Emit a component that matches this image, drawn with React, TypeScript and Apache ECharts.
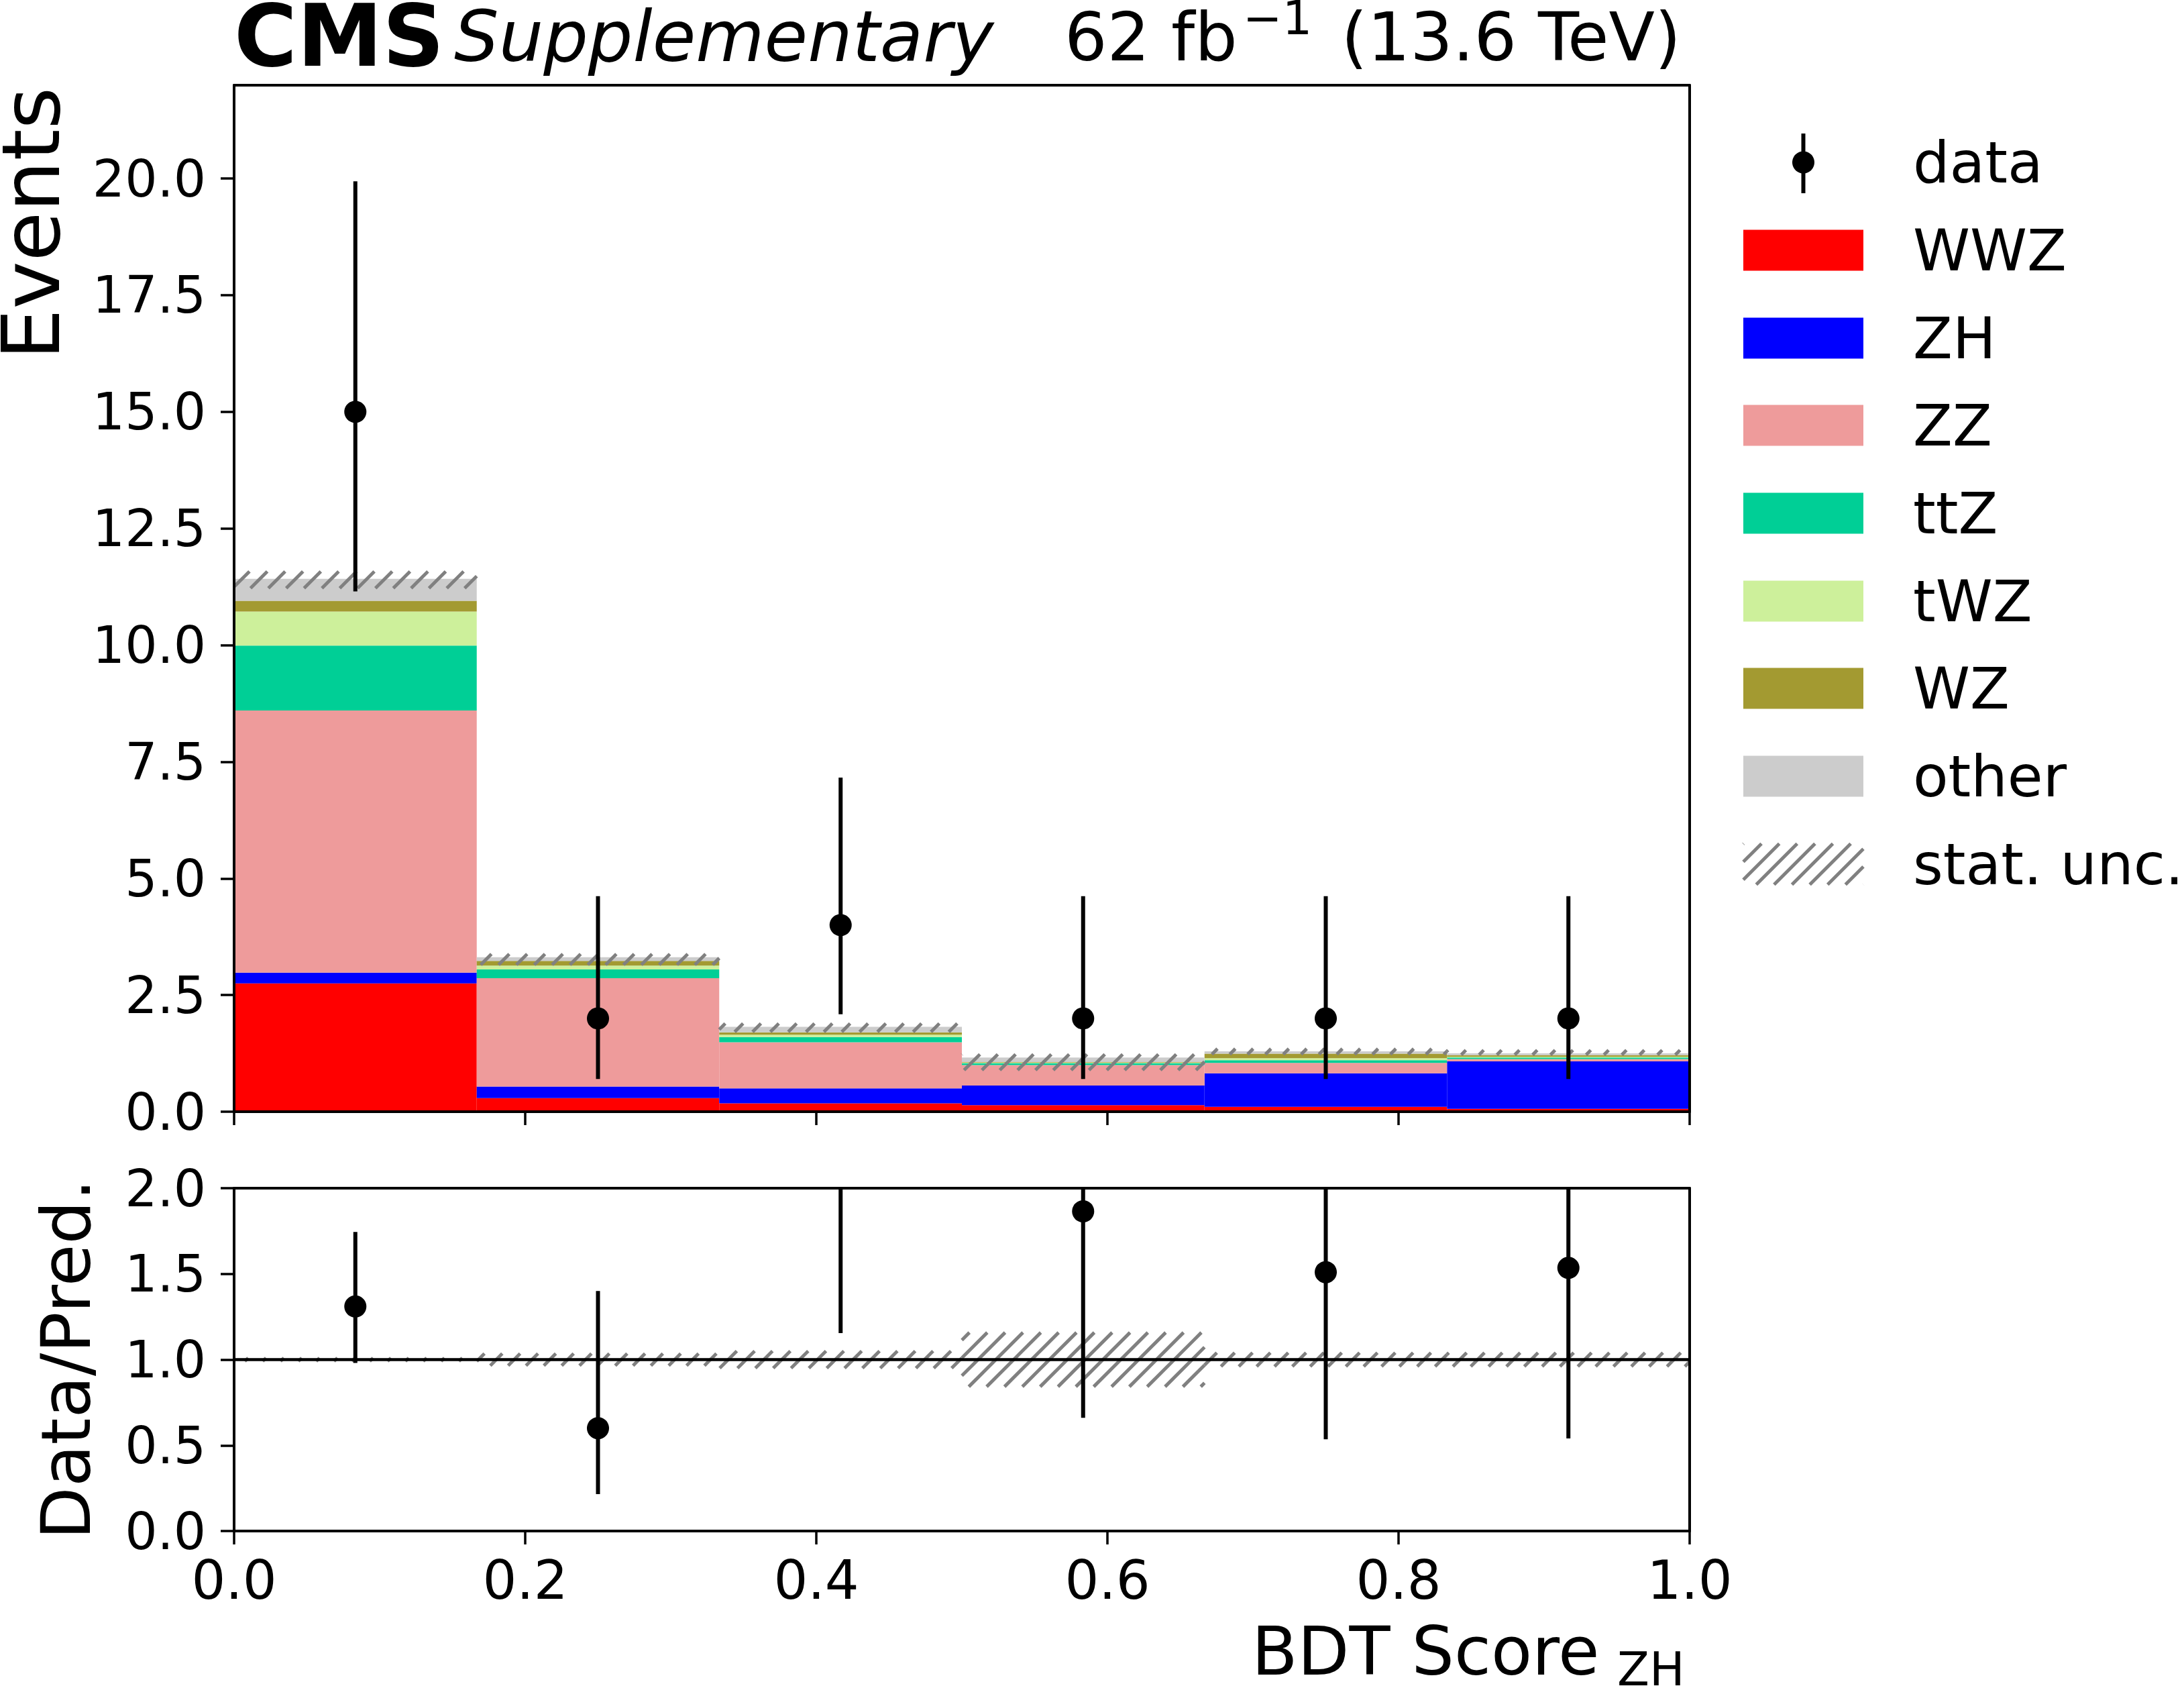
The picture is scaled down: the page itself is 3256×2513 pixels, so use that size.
import React, { useEffect, useRef } from "react";
import * as echarts from "echarts";

// ---------------- data ----------------
const binEdges = [0, 0.1667, 0.3333, 0.5, 0.6667, 0.8333, 1.0];
const binCenters = [0.0833, 0.25, 0.4167, 0.5833, 0.75, 0.9167];

const processNames = ["WWZ", "ZH", "ZZ", "ttZ", "tWZ", "WZ", "other"];
const processColors = ["#ff0000", "#0000ff", "#ee9b9b", "#00cf96", "#cdf09b", "#a39a31", "#cccccc"];
const wwzValues = [2.75, 0.29, 0.18, 0.14, 0.105, 0.06];
const zhValues = [0.23, 0.25, 0.32, 0.42, 0.72, 1.02];
const zzValues = [5.62, 2.32, 0.99, 0.44, 0.22, 0.05];
const ttzValues = [1.39, 0.19, 0.11, 0.04, 0.06, 0.03];
const twzValues = [0.73, 0.08, 0.05, 0.015, 0.04, 0.02];
const wzValues = [0.23, 0.1, 0.05, 0.01, 0.1, 0.03];
const otherValues = [0.47, 0.08, 0.12, 0.095, 0.05, 0.04];

const statUncLow = [11.22, 3.15, 1.71, 0.89, 1.23, 1.22];
const statUncHigh = [11.58, 3.38, 1.89, 1.23, 1.35, 1.32];

const dataValues = [15, 2, 4, 2, 2, 2];
const dataErrLow = [11.15, 0.7, 2.09, 0.7, 0.7, 0.7];
const dataErrHigh = [19.94, 4.62, 7.16, 4.62, 4.62, 4.62];

const ratioValues = [1.31, 0.6, 2.21, 1.865, 1.51, 1.535];
const ratioErrLow = [0.98, 0.215, 1.155, 0.66, 0.535, 0.54];
const ratioErrHigh = [1.745, 1.4, 3.95, 4.33, 3.5, 3.6];
const ratioBandLow = [0.99, 0.965, 0.95, 0.842, 0.96, 0.96];
const ratioBandHigh = [1.01, 1.035, 1.05, 1.158, 1.04, 1.04];

const mainYTicks = [0, 2.5, 5, 7.5, 10, 12.5, 15, 17.5, 20];
const ratioYTicks = [0, 0.5, 1, 1.5, 2];
const xTicks = [0, 0.2, 0.4, 0.6, 0.8, 1.0];

const processValues = [wwzValues, zhValues, zzValues, ttzValues, twzValues, wzValues, otherValues];

// ---------------- helpers ----------------
const FONT = "DejaVu Sans";
const HATCH_SPACING = 26.6;
const HATCH_COLOR = "#808080";
const ERR_WIDTH = 6;

function hatchLines(xL: number, yT: number, xR: number, yB: number) {
  const out: any[] = [];
  const S = HATCH_SPACING;
  const cStart = Math.ceil((xL + yT) / S) * S;
  for (let c = cStart; c <= xR + yB; c += S) {
    const xa = Math.max(xL, c - yB);
    const xb = Math.min(xR, c - yT);
    if (xb > xa) {
      out.push({
        type: "line",
        shape: { x1: xa, y1: c - xa, x2: xb, y2: c - xb },
        style: { stroke: HATCH_COLOR, lineWidth: 5, lineCap: "butt" },
      });
    }
  }
  return out;
}

function rectSeries(name: string, color: string, data: number[][], xi: number, yi: number) {
  return {
    type: "custom",
    name,
    xAxisIndex: xi,
    yAxisIndex: yi,
    encode: { x: [0, 1], y: [2, 3] },
    data,
    renderItem: (_p: any, api: any) => {
      const p0 = api.coord([api.value(0), api.value(2)]);
      const p1 = api.coord([api.value(1), api.value(3)]);
      return {
        type: "rect",
        shape: { x: p0[0], y: p1[1], width: p1[0] - p0[0], height: p0[1] - p1[1] },
        style: { fill: color },
      };
    },
  };
}

function hatchSeries(name: string, data: number[][], xi: number, yi: number) {
  return {
    type: "custom",
    name,
    xAxisIndex: xi,
    yAxisIndex: yi,
    encode: { x: [0, 1], y: [2, 3] },
    data,
    renderItem: (_p: any, api: any) => {
      const p0 = api.coord([api.value(0), api.value(2)]);
      const p1 = api.coord([api.value(1), api.value(3)]);
      return { type: "group", children: hatchLines(p0[0], p1[1], p1[0], p0[1]) };
    },
  };
}

function pointSeries(name: string, data: number[][], xi: number, yi: number, yMin: number, yMax: number) {
  return {
    type: "custom",
    name,
    xAxisIndex: xi,
    yAxisIndex: yi,
    encode: { x: 0, y: 1 },
    data,
    renderItem: (_p: any, api: any) => {
      const x = api.value(0);
      const y = api.value(1);
      const lo = Math.max(yMin, api.value(2));
      const hi = Math.min(yMax, api.value(3));
      const pLo = api.coord([x, lo]);
      const pHi = api.coord([x, hi]);
      const children: any[] = [
        {
          type: "line",
          shape: { x1: pLo[0], y1: pLo[1], x2: pHi[0], y2: pHi[1] },
          style: { stroke: "#000", lineWidth: ERR_WIDTH },
        },
      ];
      if (y >= yMin && y <= yMax) {
        const p = api.coord([x, y]);
        children.push({ type: "circle", shape: { cx: p[0], cy: p[1], r: 16.5 }, style: { fill: "#000" } });
      }
      return { type: "group", children };
    },
  };
}

function fmt(ticks: number[]) {
  return (v: number) => (ticks.some((t) => Math.abs(t - v) < 1e-6) ? v.toFixed(1) : "");
}

function buildOption() {
  const nb = binCenters.length;
  // stacked histogram table
  const cum = new Array(nb).fill(0);
  const stackSeries: any[] = [];
  processValues.forEach((vals, i) => {
    const data = vals.map((v, b) => {
      const row = [binEdges[b], binEdges[b + 1], cum[b], cum[b] + v];
      cum[b] += v;
      return row;
    });
    stackSeries.push(rectSeries(processNames[i], processColors[i], data, 0, 0));
  });
  const statData = statUncLow.map((lo, b) => [binEdges[b], binEdges[b + 1], lo, statUncHigh[b]]);
  const ratioBandData = ratioBandLow.map((lo, b) => [binEdges[b], binEdges[b + 1], lo, ratioBandHigh[b]]);
  const dataPts = dataValues.map((v, b) => [binCenters[b], v, dataErrLow[b], dataErrHigh[b]]);
  const ratioPts = ratioValues.map((v, b) => [binCenters[b], v, ratioErrLow[b], ratioErrHigh[b]]);

  const tickStyle = { show: true, inside: false, length: 20, lineStyle: { color: "#000", width: 3.5 } };
  const lineStyle = { show: true, onZero: false, lineStyle: { color: "#000", width: 4 } };
  const xLabelStyle = { color: "#000", fontSize: 80, fontFamily: FONT };
  const yLabelStyle = { color: "#000", fontSize: 76, fontFamily: FONT };

  const frameAxisX = (gridIndex: number, position: string) => ({
    type: "value",
    gridIndex,
    position,
    min: 0,
    max: 1,
    z: 10,
    axisLine: lineStyle,
    axisTick: { show: false },
    axisLabel: { show: false },
    splitLine: { show: false },
  });
  const frameAxisY = (gridIndex: number, position: string, max: number) => ({
    type: "value",
    gridIndex,
    position,
    min: 0,
    max,
    z: 10,
    axisLine: lineStyle,
    axisTick: { show: false },
    axisLabel: { show: false },
    splitLine: { show: false },
  });

  // legend graphics
  const legendX = 2599;
  const legendW = 179;
  const legendH = 61;
  const rowY = [242, 373, 504, 634, 765, 896, 1026, 1157, 1288];
  const textX = 2852;
  const legendItems: any[] = [];
  legendItems.push({
    type: "line",
    shape: { x1: legendX + legendW / 2, y1: rowY[0] - 43, x2: legendX + legendW / 2, y2: rowY[0] + 46 },
    style: { stroke: "#000", lineWidth: ERR_WIDTH },
  });
  legendItems.push({
    type: "circle",
    shape: { cx: legendX + legendW / 2, cy: rowY[0], r: 16.5 },
    style: { fill: "#000" },
  });
  const legendLabels = ["data", ...processNames, "stat. unc."];
  processNames.forEach((_n, i) => {
    legendItems.push({
      type: "rect",
      shape: { x: legendX, y: rowY[i + 1] - legendH / 2, width: legendW, height: legendH },
      style: { fill: processColors[i] },
    });
  });
  const sy = rowY[8];
  hatchLines(legendX, sy - legendH / 2, legendX + legendW, sy + legendH / 2).forEach((l) => legendItems.push(l));
  legendLabels.forEach((t, i) => {
    legendItems.push({
      type: "text",
      x: textX,
      y: rowY[i],
      style: { text: t, fontSize: 86, fontFamily: FONT, fill: "#000", align: "left", verticalAlign: "middle" },
    });
  });

  const titleItems: any[] = [
    {
      type: "text",
      x: 349,
      y: 53,
      style: { text: "CMS", fontSize: 128, lineHeight: 100, fontWeight: "bold", fontFamily: FONT, fill: "#000", align: "left", verticalAlign: "middle" },
    },
    {
      type: "text",
      x: 677,
      y: 55,
      style: { text: "Supplementary", fontSize: 105, lineHeight: 96, fontStyle: "italic", fontFamily: FONT, fill: "#000", align: "left", verticalAlign: "middle" },
    },
    {
      type: "text",
      x: 1587,
      y: 55,
      style: { text: "62 fb", fontSize: 100, lineHeight: 96, fontFamily: FONT, fill: "#000", align: "left", verticalAlign: "middle" },
    },
    {
      type: "text",
      x: 1853,
      y: 27,
      style: { text: "\u22121", fontSize: 70, lineHeight: 50, fontFamily: FONT, fill: "#000", align: "left", verticalAlign: "middle" },
    },
    {
      type: "text",
      x: 2506,
      y: 55,
      style: { text: "(13.6 TeV)", fontSize: 100, lineHeight: 96, fontFamily: FONT, fill: "#000", align: "right", verticalAlign: "middle" },
    },
    {
      type: "text",
      x: 46,
      y: 130,
      rotation: Math.PI / 2,
      style: { text: "Events", fontSize: 120, lineHeight: 90, fontFamily: FONT, fill: "#000", align: "right", verticalAlign: "middle" },
    },
    {
      type: "text",
      x: 98,
      y: 2026,
      rotation: Math.PI / 2,
      style: { text: "Data/Pred.", fontSize: 102, fontFamily: FONT, fill: "#000", align: "center", verticalAlign: "middle" },
    },
    {
      type: "text",
      x: 1866,
      y: 2461,
      style: { text: "BDT Score", fontSize: 100, fontFamily: FONT, fill: "#000", align: "left", verticalAlign: "middle" },
    },
    {
      type: "text",
      x: 2411,
      y: 2488,
      style: { text: "ZH", fontSize: 70, lineHeight: 44, fontFamily: FONT, fill: "#000", align: "left", verticalAlign: "middle" },
    },
  ];

  return {
    animation: false,
    backgroundColor: "#ffffff",
    textStyle: { fontFamily: FONT },
    grid: [
      { left: 349, top: 127, width: 2170, height: 1530, containLabel: false },
      { left: 349, top: 1771, width: 2170, height: 511, containLabel: false },
    ],
    xAxis: [
      {
        type: "value",
        gridIndex: 0,
        position: "bottom",
        min: 0,
        max: 1,
        interval: 0.2,
        z: 10,
        axisLine: lineStyle,
        axisTick: { ...tickStyle, customValues: xTicks },
        axisLabel: { show: false },
        splitLine: { show: false },
      },
      {
        type: "value",
        gridIndex: 1,
        position: "bottom",
        min: 0,
        max: 1,
        interval: 0.2,
        z: 10,
        axisLine: lineStyle,
        axisTick: { ...tickStyle, customValues: xTicks },
        axisLabel: { ...xLabelStyle, margin: 33, formatter: fmt(xTicks), customValues: xTicks },
        splitLine: { show: false },
      },
      frameAxisX(0, "top"),
      frameAxisX(1, "top"),
    ],
    yAxis: [
      {
        type: "value",
        gridIndex: 0,
        position: "left",
        min: 0,
        max: 22,
        interval: 2.5,
        z: 10,
        axisLine: lineStyle,
        axisTick: { ...tickStyle, customValues: mainYTicks },
        axisLabel: { ...yLabelStyle, margin: 42, formatter: fmt(mainYTicks), customValues: mainYTicks },
        splitLine: { show: false },
      },
      {
        type: "value",
        gridIndex: 1,
        position: "left",
        min: 0,
        max: 2,
        interval: 0.5,
        z: 10,
        axisLine: lineStyle,
        axisTick: { ...tickStyle, customValues: ratioYTicks },
        axisLabel: { ...yLabelStyle, margin: 42, formatter: fmt(ratioYTicks), customValues: ratioYTicks },
        splitLine: { show: false },
      },
      frameAxisY(0, "right", 22),
      frameAxisY(1, "right", 2),
    ],
    series: [
      ...stackSeries,
      hatchSeries("stat. unc.", statData, 0, 0),
      pointSeries("data", dataPts, 0, 0, 0, 22),
      hatchSeries("ratio stat. unc.", ratioBandData, 1, 1),
      {
        type: "custom",
        name: "unity",
        xAxisIndex: 1,
        yAxisIndex: 1,
        encode: { x: 0, y: 1 },
        data: [[0, 1]],
        renderItem: (_p: any, api: any) => {
          const a = api.coord([0, 1]);
          const b = api.coord([1, 1]);
          return { type: "line", shape: { x1: a[0], y1: a[1], x2: b[0], y2: b[1] }, style: { stroke: "#000", lineWidth: 4.5 } };
        },
      },
      pointSeries("data/pred", ratioPts, 1, 1, 0, 2),
    ],
    graphic: [...titleItems, ...legendItems],
  };
}

export default function App() {
  const ref = useRef<HTMLDivElement>(null);
  useEffect(() => {
    document.body.style.margin = "0";
    if (!ref.current) return;
    const chart = echarts.init(ref.current, undefined, { renderer: "svg" });
    chart.setOption(buildOption() as any);
    return () => chart.dispose();
  }, []);
  return <div ref={ref} style={{ width: 3256, height: 2513, background: "#fff" }} />;
}
